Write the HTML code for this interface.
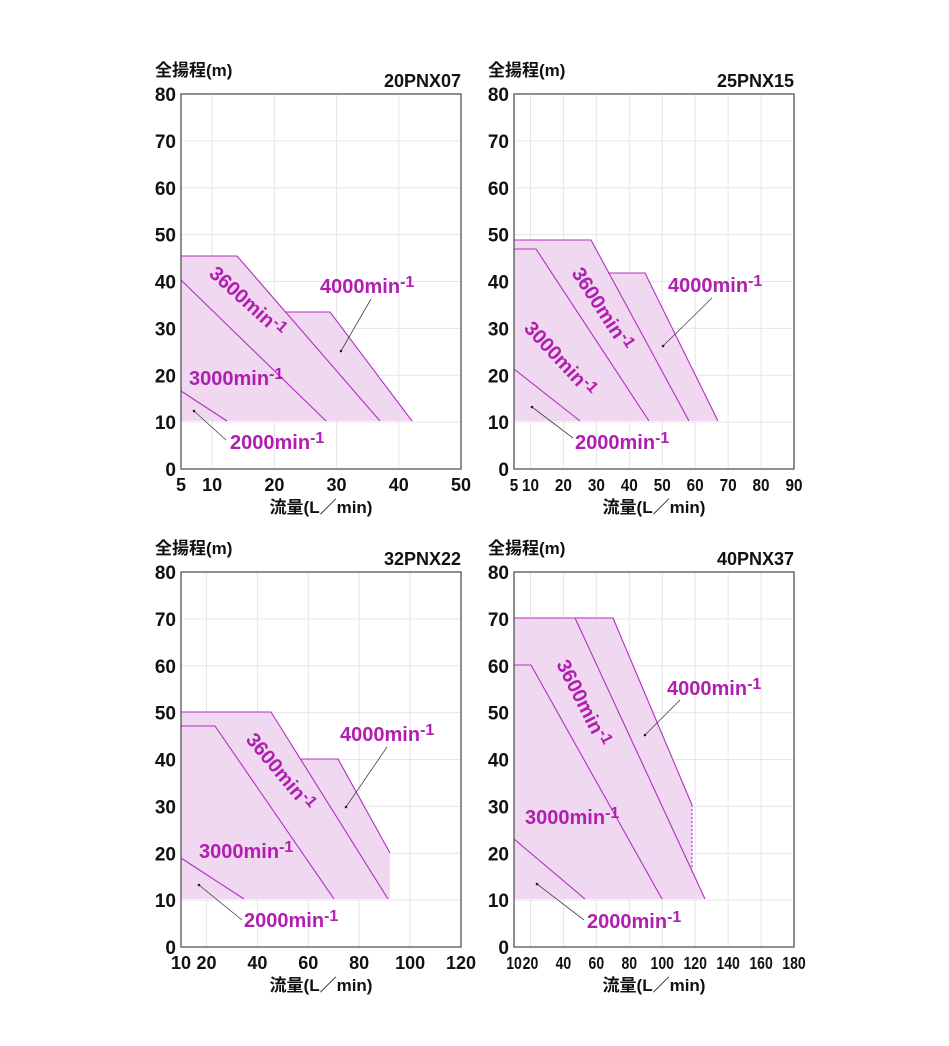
<!DOCTYPE html>
<html><head><meta charset="utf-8"><style>
html,body{margin:0;padding:0;background:#fff;}
svg{display:block;}
text{font-family:"Liberation Sans","Noto Sans CJK JP",sans-serif;font-weight:bold;}
</style></head><body>
<svg id="s" width="949" height="1046" xmlns="http://www.w3.org/2000/svg"></svg>
<script>
var S=document.getElementById('s');var h='';
var MC='#b22fc0',FC='#f0d8f0',TC='#b01fb0';
function chart(o){
 var L=o.L,T=o.T,R=L+280,B=T+375,u=(B-T)/80;
 function Y(v){return B-v*u;}
 function X(v){return L+(v-o.x0)/(o.x1-o.x0)*280;}
 for(var i=1;i<8;i++)h+='<line x1="'+L+'" x2="'+R+'" y1="'+Y(i*10)+'" y2="'+Y(i*10)+'" stroke="#e6e6e6" stroke-width="1"/>';
 o.ticks.forEach(function(t){var x=X(t);if(x>L+1&&x<R-1)h+='<line x1="'+x+'" x2="'+x+'" y1="'+T+'" y2="'+B+'" stroke="#e6e6e6" stroke-width="1"/>';});
 h+='<polygon points="'+o.fill+'" fill="'+FC+'"/>';
 o.lines.forEach(function(p){h+='<polyline points="'+p+'" fill="none" stroke="'+MC+'" stroke-width="1.1"/>';});
 if(o.dash)h+='<polyline points="'+o.dash+'" fill="none" stroke="'+MC+'" stroke-width="1.1" stroke-dasharray="2,2"/>';
 h+='<rect x="'+L+'" y="'+T+'" width="280" height="375" fill="none" stroke="#555" stroke-width="1.3"/>';
 for(var i=0;i<=8;i++)h+='<text x="'+(L-5)+'" y="'+(Y(i*10)+7)+'" font-size="19" text-anchor="end" fill="#111">'+(i*10)+'</text>';
 var sx=o.sx||1;
 o.ticks.forEach(function(t){var x=X(t);h+='<text x="0" y="0" font-size="18" text-anchor="middle" fill="#111" transform="translate('+x+' '+(B+22)+') scale('+sx+' 1)">'+t+'</text>';});
 h+='<text x="'+(L-26)+'" y="'+(T-18)+'" font-size="17" fill="#111">全揚程(m)</text>';
 h+='<text x="'+R+'" y="'+(T-7)+'" font-size="18" text-anchor="end" fill="#111">'+o.title+'</text>';
 h+='<text x="'+(L+140)+'" y="'+(B+44)+'" font-size="17" text-anchor="middle" fill="#111">流量(L／min)</text>';
 o.labels.forEach(function(l){
  h+='<text x="'+l[0]+'" y="'+l[1]+'" font-size="20" fill="'+TC+'"'+(l[3]?' transform="rotate('+l[3]+' '+l[0]+' '+l[1]+')"':'')+'>'+l[2]+'min<tspan dy="-6" font-size="16">-1</tspan></text>';});
 o.leaders.forEach(function(d){h+='<line x1="'+d[0]+'" y1="'+d[1]+'" x2="'+d[2]+'" y2="'+d[3]+'" stroke="#444" stroke-width="0.8"/><circle cx="'+d[2]+'" cy="'+d[3]+'" r="1.3" fill="#222"/>';});
}
chart({L:181,T:94,x0:5,x1:50,ticks:[5,10,20,30,40,50],title:'20PNX07',
 fill:'181,421 181,256 237,256 286,312 330,312 412,421',
 lines:['181,256 237,256 380,421','286,312 330,312 412,421','181,280 326,421','181,391 227,421'],
 labels:[[208,275,'3600',42],[320,293,'4000'],[189,385,'3000'],[230,449,'2000']],
 leaders:[[371,299,341,351],[226,440,194,411]]});
chart({L:514,T:94,x0:5,x1:90,sx:0.85,ticks:[5,10,20,30,40,50,60,70,80,90],title:'25PNX15',
 fill:'514,421 514,240 591,240 608,273 645,273 718,421',
 lines:['514,240 591,240 689,421','608,273 645,273 718,421','514,249 536,249 649,421','514,369 580,421'],
 labels:[[571,273,'3600',57],[523,329,'3000',47],[668,292,'4000'],[575,449,'2000']],
 leaders:[[712,298,663,346],[573,438,532,407]]});
chart({L:181,T:572,x0:10,x1:120,ticks:[10,20,40,60,80,100,120],title:'32PNX22',
 fill:'181,899 181,712 271,712 300,759 338,759 390,853 390,899',
 lines:['181,712 271,712 388,899','300,759 338,759 390,853','181,726 215,726 334,899','181,858 244,899'],
 labels:[[245,740,'3600',50],[340,741,'4000'],[199,858,'3000'],[244,927,'2000']],
 leaders:[[387,747,346,807],[242,920,199,885]]});
chart({L:514,T:572,x0:10,x1:180,sx:0.78,ticks:[10,20,40,60,80,100,120,140,160,180],title:'40PNX37',
 fill:'514,899 514,618 613,618 692,805 692,868 705,899',
 lines:['514,618 613,618 692,805','575,618 705,899','514,665 531,665 662,899','514,839 585,899'],
 dash:'692,805 692,868',
 labels:[[556,664,'3600',63],[667,695,'4000'],[525,824,'3000'],[587,928,'2000']],
 leaders:[[680,700,645,735],[584,920,537,884]]});
S.innerHTML=h;
</script>
</body></html>
